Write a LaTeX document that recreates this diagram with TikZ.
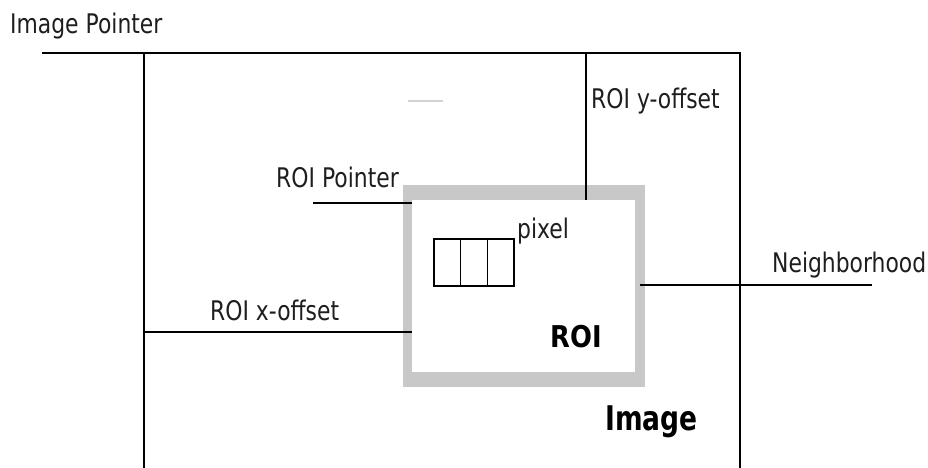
\documentclass[tikz,border=0pt]{standalone}
\usepackage{fontspec}
\newfontfamily\lab[FakeStretch=0.81]{DejaVu Sans}
\newfontfamily\labbold[FakeStretch=0.78]{DejaVu Sans Bold}
\newfontfamily\roifont[FakeStretch=0.86]{DejaVu Sans Bold}
\definecolor{roigrey}{RGB}{200,200,200}
\definecolor{ink}{RGB}{30,30,30}
\tikzset{
  lbl/.style={inner sep=0pt, anchor=base west, text=ink, font=\lab\fontsize{27}{31}\selectfont},
  conn/.style={draw=black, line width=1.3pt},
  border/.style={draw=black, line width=2.4pt},
  cell/.style={draw=black, line width=1.2pt, minimum width=26.67pt, minimum height=47pt, inner sep=0pt, outer sep=0pt},
  box/.style={inner sep=0pt, outer sep=0pt},
}
\begin{document}
\begin{tikzpicture}[x=1pt, y=-1pt]
\useasboundingbox (0,0) rectangle (928,468);
\fill[white] (0,0) rectangle (928,468);

% Image frame (open at bottom)
\coordinate (imgBL) at (144,468);
\coordinate (imgTL) at (144,53);
\coordinate (imgTR) at (740,53);
\coordinate (imgBR) at (740,468);
\draw[border] (imgBL) -- (imgTL) -- (imgTR) -- (imgBR);

% Image pointer
\node[lbl] (ipLabel) at (10,34) {Image Pointer};
\coordinate (ipStart) at (42,53);
\draw[conn] (ipStart) -- (imgTL);

% stray faint mark
\coordinate (fa) at (408,101);
\coordinate (fb) at (443,101);
\draw[gray!35, line width=1.2pt] (fa) -- (fb);

% ROI grey frame (thicker at top and bottom)
\node[box, fill=roigrey, minimum width=242pt, minimum height=202pt] (roiOuter) at (524,286) {};
\node[box, fill=white, minimum width=223pt, minimum height=172pt] (roi) at (523.5,286) {};
\node[inner sep=0pt, anchor=base west, font=\roifont\fontsize{30}{34}\selectfont] (roiText) at (550,347) {ROI};

% pixels
\node[cell] (p1) at (447.33,262.5) {};
\node[cell, anchor=west] (p2) at (p1.east) {};
\node[cell, anchor=west] (p3) at (p2.east) {};
\node[lbl] (pixText) at (517,238) {pixel};

% ROI y-offset
\coordinate (yTop) at (586,53);
\coordinate (yBot) at (586,200);
\draw[conn] (yTop) -- (yBot);
\node[lbl] (yText) at (591,109) {ROI y-offset};

% ROI pointer
\node[lbl] (rpText) at (276,187) {ROI Pointer};
\coordinate (rpA) at (313,203);
\coordinate (rpB) at (412,203);
\draw[conn] (rpA) -- (rpB);

% ROI x-offset
\node[lbl] (xText) at (210,320) {ROI x-offset};
\coordinate (xA) at (144,332);
\coordinate (xB) at (412,332);
\draw[conn] (xA) -- (xB);

% Neighborhood
\node[lbl] (nText) at (772,272) {Neighborhood};
\coordinate (nA) at (640,285);
\coordinate (nB) at (872,285);
\draw[conn] (nA) -- (nB);

% Image label
\node[inner sep=0pt, anchor=base west, font=\labbold\fontsize{34}{40}\selectfont] (imgText) at (605,430) {Image};
\end{tikzpicture}
\end{document}
